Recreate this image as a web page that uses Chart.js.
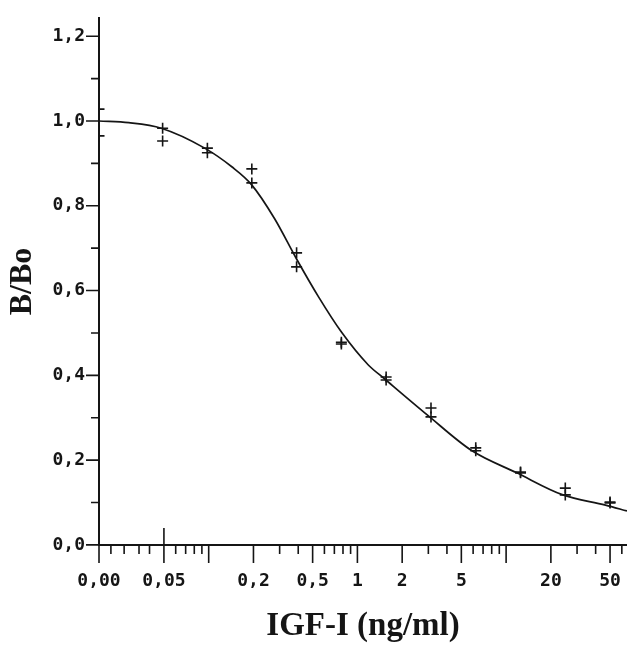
<!DOCTYPE html>
<html>
<head>
<meta charset="utf-8">
<script src="https://cdn.jsdelivr.net/npm/chart.js@4.4.1/dist/chart.umd.min.js"></script>
<style>
  html, body { margin: 0; padding: 0; background: #fff; }
  canvas { display: block; }
</style>
</head>
<body>
<canvas id="curveChart" width="627" height="646"></canvas>
<script>
// Position of the zero standard ("0,00") on the log axis, and right end of the axis
const X_MIN = 0.0183;
const X_MAX = 65;
const Y_MAX = 1.243;

// Standards (ng/ml) and the two replicate B/Bo readings
const STANDARD_CONC = [X_MIN, 0.049, 0.098, 0.195, 0.39, 0.78, 1.56, 3.125, 6.25, 12.5, 25, 50];
const REPLICATE_1 = [1.028, 0.983, 0.936, 0.887, 0.689, 0.478, 0.396, 0.323, 0.229, 0.172, 0.134, 0.101];
const REPLICATE_2 = [0.965, 0.953, 0.925, 0.854, 0.656, 0.474, 0.389, 0.302, 0.222, 0.170, 0.118, 0.099];

// Fitted curve
const CURVE_CONC = [X_MIN, 0.029, 0.048, 0.094, 0.143, 0.194, 0.277, 0.389, 0.548, 0.781, 1.18, 1.52, 2.99, 5.9, 11.8, 24.1, 46.6, 65];
const CURVE_BBO = [1.000, 0.996, 0.983, 0.936, 0.892, 0.850, 0.770, 0.675, 0.585, 0.502, 0.425, 0.392, 0.305, 0.222, 0.170, 0.118, 0.094, 0.080];

// Axis ticks
const X_TICKS = [X_MIN, 0.05, 0.2, 0.5, 1, 2, 5, 20, 50];
const X_LABELS = ['0,00', '0,05', '0,2', '0,5', '1', '2', '5', '20', '50'];
const X_LONG = [X_MIN, 0.1, 0.2, 0.5, 1, 2, 5, 10, 20, 50];
const X_TALL = [0.05];
const X_SHORT = [0.022, 0.027, 0.034, 0.04, 0.06, 0.07, 0.08, 0.09, 0.3, 0.4, 0.6, 0.7, 0.8, 0.9,
                 3, 4, 6, 7, 8, 9, 30, 40, 60];
const Y_TICKS = [0, 0.2, 0.4, 0.6, 0.8, 1.0, 1.2];
const Y_LABELS = ['0,0', '0,2', '0,4', '0,6', '0,8', '1,0', '1,2'];
const Y_SHORT = [0.1, 0.3, 0.5, 0.7, 0.9, 1.1];

const INK = '#151515';
const TICK_FONT = { family: 'DejaVu Sans Mono', size: 18, weight: 'bold' };

function pairs(xs, ys) {
    return xs.map((x, i) => ({ x: x, y: ys[i] }));
}

// Tick marks of different lengths, placed with the chart's own scales
const tickMarks = {
    id: 'tickMarks',
    afterDraw(chart) {
        const { ctx, scales: { x, y } } = chart;
        const axisY = y.getPixelForValue(0);
        const axisX = x.getPixelForValue(X_MIN);
        ctx.save();
        ctx.strokeStyle = INK;
        ctx.lineWidth = 1.6;
        ctx.beginPath();
        X_LONG.forEach(v => {
            const px = x.getPixelForValue(v);
            ctx.moveTo(px, axisY);
            ctx.lineTo(px, axisY + 18);
        });
        X_TALL.forEach(v => {
            const px = x.getPixelForValue(v);
            ctx.moveTo(px, axisY - 17);
            ctx.lineTo(px, axisY + 18);
        });
        X_SHORT.forEach(v => {
            const px = x.getPixelForValue(v);
            ctx.moveTo(px, axisY);
            ctx.lineTo(px, axisY + 9);
        });
        Y_TICKS.forEach(v => {
            const py = y.getPixelForValue(v);
            ctx.moveTo(axisX - 13, py);
            ctx.lineTo(axisX, py);
        });
        Y_SHORT.forEach(v => {
            const py = y.getPixelForValue(v);
            ctx.moveTo(axisX - 8, py);
            ctx.lineTo(axisX, py);
        });
        ctx.stroke();
        ctx.restore();
    }
};

const ctx = document.getElementById('curveChart').getContext('2d');
const chart = new Chart(ctx, {
    type: 'scatter',
    data: {
        datasets: [
            {
                type: 'line',
                label: 'fit',
                data: pairs(CURVE_CONC, CURVE_BBO),
                borderColor: INK,
                borderWidth: 1.7,
                pointRadius: 0,
                cubicInterpolationMode: 'monotone',
                fill: false
            },
            {
                label: 'B/Bo 1',
                data: pairs(STANDARD_CONC, REPLICATE_1),
                pointStyle: 'cross',
                pointRadius: 5.5,
                borderColor: INK,
                borderWidth: 1.6
            },
            {
                label: 'B/Bo 2',
                data: pairs(STANDARD_CONC, REPLICATE_2),
                pointStyle: 'cross',
                pointRadius: 5.5,
                borderColor: INK,
                borderWidth: 1.6
            }
        ]
    },
    options: {
        responsive: false,
        animation: false,
        layout: { autoPadding: false, padding: { top: 18, right: 0, bottom: 0, left: 0 } },
        plugins: {
            legend: { display: false },
            tooltip: { enabled: false }
        },
        scales: {
            x: {
                type: 'logarithmic',
                position: 'bottom',
                min: X_MIN,
                max: X_MAX,
                afterBuildTicks: (scale) => {
                    scale.ticks = X_TICKS.map(v => ({ value: v }));
                },
                // tick room is reserved here, the marks themselves come from tickMarks
                grid: { display: true, drawOnChartArea: false, drawTicks: true, tickLength: 26, tickColor: 'rgba(0,0,0,0)' },
                border: { display: true, color: INK, width: 2 },
                ticks: {
                    autoSkip: false,
                    maxRotation: 0,
                    padding: 0,
                    color: INK,
                    font: TICK_FONT,
                    callback: (value, index) => X_LABELS[index]
                },
                title: {
                    display: true,
                    text: 'IGF-I (ng/ml)',
                    color: INK,
                    font: { family: 'Liberation Serif', size: 33, weight: 'bold', lineHeight: 1 },
                    padding: { top: 17, bottom: 3.5 }
                }
            },
            y: {
                type: 'linear',
                position: 'left',
                min: 0,
                max: Y_MAX,
                afterBuildTicks: (scale) => {
                    scale.ticks = Y_TICKS.map(v => ({ value: v }));
                },
                grid: { display: true, drawOnChartArea: false, drawTicks: true, tickLength: 14, tickColor: 'rgba(0,0,0,0)' },
                border: { display: true, color: INK, width: 2 },
                ticks: {
                    padding: 0,
                    color: INK,
                    font: TICK_FONT,
                    callback: (value, index) => Y_LABELS[index]
                },
                title: {
                    display: true,
                    text: 'B/Bo',
                    color: INK,
                    font: { family: 'Liberation Serif', size: 32, weight: 'bold', lineHeight: 1 },
                    padding: { top: 7, bottom: 13.5 }
                }
            }
        }
    },
    plugins: [tickMarks]
});
</script>
</body>
</html>
